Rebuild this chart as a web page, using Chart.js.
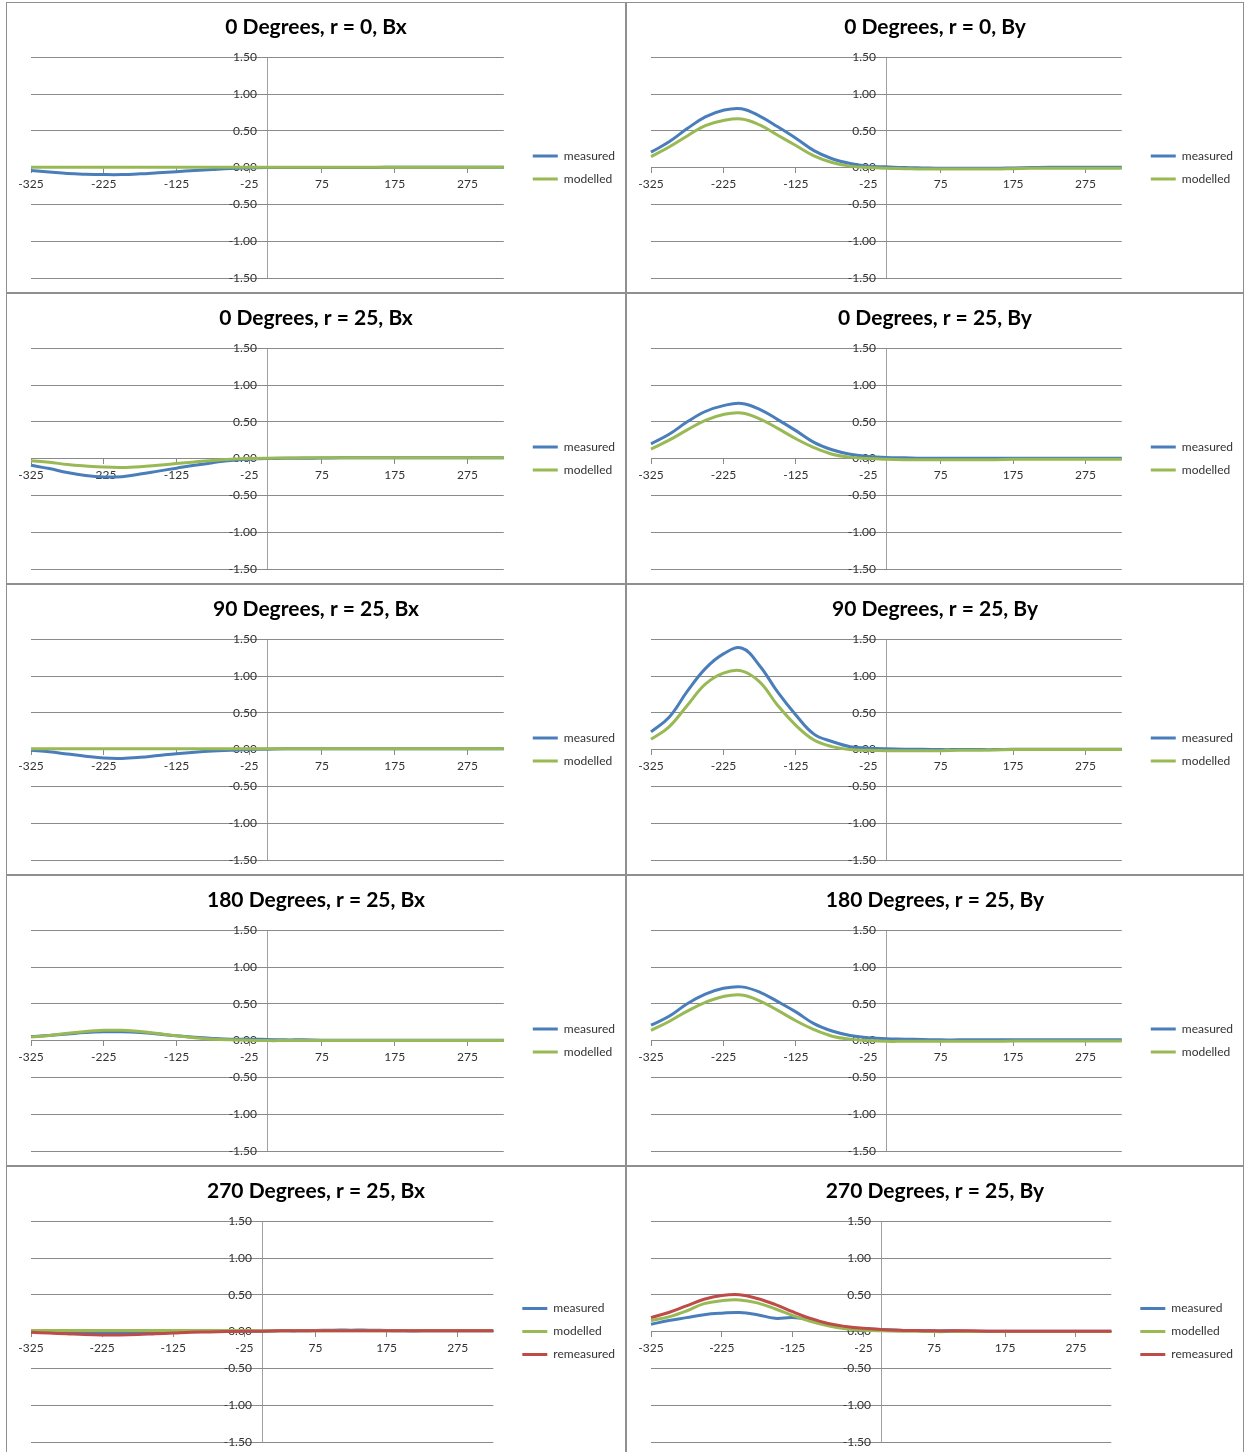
<!DOCTYPE html>
<html>
<head>
<meta charset="utf-8">
<title>Bx / By profiles</title>
<script src="https://cdn.jsdelivr.net/npm/chart.js@4/dist/chart.umd.min.js"></script>
<style>
  html, body { margin: 0; padding: 0; background: #ffffff; }
  body { width: 1244px; height: 1452px; position: relative; overflow: hidden; }
  .panel { position: absolute; box-sizing: border-box; border: 1px solid #8f8f8f; height: 291px; background: #ffffff; }
  .panel canvas { display: block; }
</style>
</head>
<body>
<script>
// Probe positions along the scan (category axis)
const POSITIONS = [-325, -300, -275, -250, -225, -200, -175, -150, -125, -100, -75, -50, -25,
                   0, 25, 50, 75, 100, 125, 150, 175, 200, 225, 250, 275, 300, 325];
const X_TICK_LABELS = [-325, -225, -125, -25, 75, 175, 275];
const Y_TICKS = [-1.5, -1.0, -0.5, 0.0, 0.5, 1.0, 1.5];

const TITLES = [
  '0 Degrees, r = 0, Bx',   '0 Degrees, r = 0, By',
  '0 Degrees, r = 25, Bx',  '0 Degrees, r = 25, By',
  '90 Degrees, r = 25, Bx', '90 Degrees, r = 25, By',
  '180 Degrees, r = 25, Bx','180 Degrees, r = 25, By',
  '270 Degrees, r = 25, Bx','270 Degrees, r = 25, By'
];

// 0 degrees, r = 0
const DEG0_R0_BX_MEASURED = [-0.04, -0.06, -0.08, -0.09, -0.095, -0.095, -0.085, -0.07, -0.055, -0.04, -0.025, -0.012, -0.005,
                             0, 0, 0, 0, 0, 0, 0.002, 0.004, 0.005, 0.005, 0.005, 0.005, 0.005, 0.005];
const DEG0_R0_BX_MODELLED = [0.004, 0.004, 0.004, 0.004, 0.004, 0.004, 0.004, 0.004, 0.004, 0.004, 0.004, 0.004, 0.004,
                             0.004, 0.004, 0.004, 0.004, 0.004, 0.004, 0.004, 0.004, 0.004, 0.004, 0.004, 0.004, 0.004, 0.004];
const DEG0_R0_BY_MEASURED = [0.21, 0.35, 0.53, 0.69, 0.78, 0.80, 0.70, 0.555, 0.40, 0.23, 0.12, 0.055, 0.02,
                             0.01, 0, -0.005, -0.01, -0.01, -0.01, -0.01, -0.005, 0, 0.005, 0.005, 0.005, 0.005, 0.005];
const DEG0_R0_BY_MODELLED = [0.15, 0.28, 0.43, 0.57, 0.64, 0.66, 0.58, 0.44, 0.30, 0.16, 0.07, 0.02, 0,
                             -0.01, -0.015, -0.02, -0.02, -0.02, -0.02, -0.02, -0.015, -0.01, -0.01, -0.01, -0.01, -0.01, -0.01];

// 0 degrees, r = 25
const DEG0_R25_BX_MEASURED = [-0.09, -0.135, -0.19, -0.23, -0.25, -0.245, -0.21, -0.17, -0.13, -0.09, -0.055, -0.027, -0.01,
                              0, 0.005, 0.005, 0.008, 0.01, 0.01, 0.01, 0.01, 0.01, 0.01, 0.01, 0.01, 0.01, 0.01];
const DEG0_R25_BX_MODELLED = [-0.03, -0.05, -0.08, -0.10, -0.115, -0.12, -0.11, -0.09, -0.068, -0.045, -0.025, -0.01, 0,
                              0.005, 0.008, 0.01, 0.01, 0.01, 0.01, 0.01, 0.01, 0.01, 0.01, 0.01, 0.01, 0.01, 0.01];
const DEG0_R25_BY_MEASURED = [0.20, 0.33, 0.50, 0.64, 0.72, 0.75, 0.67, 0.53, 0.38, 0.22, 0.12, 0.06, 0.03,
                              0.015, 0.01, 0.005, 0.005, 0.005, 0.005, 0.005, 0.005, 0.005, 0.005, 0.005, 0.005, 0.005, 0.005];
const DEG0_R25_BY_MODELLED = [0.13, 0.25, 0.39, 0.52, 0.60, 0.62, 0.54, 0.41, 0.27, 0.15, 0.06, 0.02, 0,
                              -0.01, -0.015, -0.015, -0.015, -0.015, -0.015, -0.015, -0.01, -0.01, -0.01, -0.01, -0.01, -0.01, -0.01];

// 90 degrees, r = 25
const DEG90_R25_BX_MEASURED = [-0.01, -0.03, -0.06, -0.09, -0.115, -0.12, -0.105, -0.08, -0.055, -0.035, -0.02, -0.01, 0,
                               0.005, 0.01, 0.01, 0.01, 0.01, 0.01, 0.01, 0.01, 0.01, 0.01, 0.01, 0.01, 0.01, 0.01];
const DEG90_R25_BX_MODELLED = [0.01, 0.01, 0.01, 0.01, 0.01, 0.01, 0.01, 0.01, 0.01, 0.01, 0.01, 0.01, 0.01,
                               0.01, 0.01, 0.01, 0.01, 0.01, 0.01, 0.01, 0.01, 0.01, 0.01, 0.01, 0.01, 0.01, 0.01];
const DEG90_R25_BY_MEASURED = [0.24, 0.44, 0.79, 1.10, 1.30, 1.38, 1.14, 0.78, 0.47, 0.21, 0.11, 0.04, 0.02,
                               0.01, 0.005, 0.005, 0, 0, 0, 0, 0.005, 0.005, 0.005, 0.005, 0.005, 0.005, 0.005];
const DEG90_R25_BY_MODELLED = [0.14, 0.31, 0.60, 0.89, 1.04, 1.07, 0.92, 0.60, 0.33, 0.13, 0.04, 0, -0.01,
                               -0.015, -0.015, -0.015, -0.015, -0.01, -0.01, -0.005, 0, 0, 0, 0, 0, 0, 0];

// 180 degrees, r = 25
const DEG180_R25_BX_MEASURED = [0.055, 0.07, 0.09, 0.11, 0.12, 0.12, 0.11, 0.09, 0.065, 0.045, 0.03, 0.02, 0.02,
                                0.015, 0.01, 0.01, 0.005, 0.005, 0.005, 0.005, 0.005, 0.005, 0.005, 0.005, 0.005, 0.005, 0.005];
const DEG180_R25_BX_MODELLED = [0.05, 0.07, 0.10, 0.125, 0.14, 0.14, 0.125, 0.095, 0.065, 0.04, 0.02, 0.01, 0.005,
                                0, 0, 0, 0, 0, 0, 0, 0, 0, 0, 0, 0, 0, 0];
const DEG180_R25_BY_MEASURED = [0.21, 0.33, 0.50, 0.63, 0.71, 0.73, 0.66, 0.53, 0.39, 0.23, 0.13, 0.07, 0.04,
                                0.025, 0.02, 0.015, 0.01, 0.01, 0.01, 0.01, 0.01, 0.01, 0.01, 0.01, 0.01, 0.01, 0.01];
const DEG180_R25_BY_MODELLED = [0.14, 0.26, 0.40, 0.52, 0.60, 0.62, 0.54, 0.41, 0.27, 0.15, 0.06, 0.02, 0,
                                -0.01, -0.01, -0.01, -0.01, -0.01, -0.01, -0.01, -0.005, -0.005, -0.005, -0.005, -0.005, -0.005, -0.005];

// 270 degrees, r = 25
const DEG270_R25_BX_MEASURED = [0, -0.01, -0.015, -0.02, -0.02, -0.02, -0.015, -0.01, -0.005, 0, 0, 0.005, 0.005,
                                0.005, 0.01, 0.01, 0.015, 0.02, 0.02, 0.02, 0.015, 0.01, 0.01, 0.01, 0.01, 0.01, 0.01];
const DEG270_R25_BX_MODELLED = [0.015, 0.015, 0.015, 0.015, 0.015, 0.015, 0.015, 0.015, 0.015, 0.015, 0.015, 0.015, 0.015,
                                0.01, 0.01, 0.01, 0.01, 0.01, 0.01, 0.01, 0.01, 0.01, 0.01, 0.01, 0.01, 0.01, 0.01];
const DEG270_R25_BX_REMEASURED = [-0.01, -0.02, -0.03, -0.04, -0.045, -0.045, -0.04, -0.03, -0.02, -0.01, -0.005, 0, 0.005,
                                  0.005, 0.01, 0.01, 0.01, 0.01, 0.01, 0.01, 0.01, 0.01, 0.01, 0.01, 0.01, 0.01, 0.01];
const DEG270_R25_BY_MEASURED = [0.10, 0.15, 0.19, 0.23, 0.25, 0.26, 0.23, 0.18, 0.19, 0.16, 0.09, 0.055, 0.04,
                                0.03, 0.02, 0.015, 0.01, 0.01, 0.005, 0.005, 0.005, 0.005, 0.005, 0.005, 0.005, 0.005, 0.005];
const DEG270_R25_BY_MODELLED = [0.15, 0.20, 0.28, 0.38, 0.42, 0.43, 0.39, 0.31, 0.22, 0.14, 0.08, 0.04, 0.02,
                                0.01, 0.005, 0.005, 0, 0, 0, 0, 0, 0, 0, 0, 0, 0, 0];
const DEG270_R25_BY_REMEASURED = [0.19, 0.26, 0.35, 0.44, 0.49, 0.50, 0.45, 0.37, 0.27, 0.18, 0.11, 0.07, 0.045,
                                  0.03, 0.02, 0.015, 0.01, 0.01, 0.01, 0.005, 0.005, 0.005, 0.005, 0.005, 0.005, 0.005, 0.005];

const SERIES_COLORS = { measured: '#4a7ebb', modelled: '#98b954', remeasured: '#be4b48' };

const PANELS = [
  [['measured', DEG0_R0_BX_MEASURED], ['modelled', DEG0_R0_BX_MODELLED]],
  [['measured', DEG0_R0_BY_MEASURED], ['modelled', DEG0_R0_BY_MODELLED]],
  [['measured', DEG0_R25_BX_MEASURED], ['modelled', DEG0_R25_BX_MODELLED]],
  [['measured', DEG0_R25_BY_MEASURED], ['modelled', DEG0_R25_BY_MODELLED]],
  [['measured', DEG90_R25_BX_MEASURED], ['modelled', DEG90_R25_BX_MODELLED]],
  [['measured', DEG90_R25_BY_MEASURED], ['modelled', DEG90_R25_BY_MODELLED]],
  [['measured', DEG180_R25_BX_MEASURED], ['modelled', DEG180_R25_BX_MODELLED]],
  [['measured', DEG180_R25_BY_MEASURED], ['modelled', DEG180_R25_BY_MODELLED]],
  [['measured', DEG270_R25_BX_MEASURED], ['modelled', DEG270_R25_BX_MODELLED], ['remeasured', DEG270_R25_BX_REMEASURED]],
  [['measured', DEG270_R25_BY_MEASURED], ['modelled', DEG270_R25_BY_MODELLED], ['remeasured', DEG270_R25_BY_REMEASURED]]
];

// Layout constants
const GRID_GRAY = '#8a8a8a';
const AXIS_GRAY = '#a0a0a0';
const CLEAR = 'rgba(0,0,0,0)';
const TEXT_COLOR = '#333333';
const LEFT_GUTTER = 24;   // room left of the plot area
const LEGEND_GAP = 18;    // space between plot area and legend
const ORIGIN_INDEX = POSITIONS.indexOf(0);
const LABEL_SHIFT = 0.58; // y tick labels sit a little left of the vertical axis (in categories)

Chart.defaults.font.family = "Lato, 'Noto Sans', sans-serif";
Chart.defaults.color = TEXT_COLOR;

// Invisible layout box used as a fixed-size gutter
function gutter(position, size, weight) {
  return {
    position, weight, fullSize: false, options: { display: false },
    left: 0, top: 0, right: 0, bottom: 0, width: 0, height: 0,
    isHorizontal() { return false; },
    update(maxWidth, maxHeight) { this.width = size; this.height = maxHeight; },
    draw() {}
  };
}
const gutterPlugin = {
  id: 'gutters',
  beforeInit(chart) {
    Chart.layouts.addBox(chart, gutter('left', LEFT_GUTTER, 0));
    Chart.layouts.addBox(chart, gutter('right', LEGEND_GAP, 500));
  }
};

const isLabelled = (index) => X_TICK_LABELS.includes(POSITIONS[index]);

function makeChart(canvas, title, series) {
  const datasets = series.map(([name, values], k) => ({
    label: name,
    data: values,
    borderColor: SERIES_COLORS[name],
    backgroundColor: SERIES_COLORS[name],
    borderWidth: 3,
    pointRadius: 0,
    pointHoverRadius: 0,
    pointStyle: 'line',
    tension: 0.4,
    fill: false,
    order: series.length - k
  }));

  return new Chart(canvas, {
    type: 'line',
    data: { labels: POSITIONS.map(String), datasets },
    plugins: [gutterPlugin],
    options: {
      responsive: false,
      animation: false,
      devicePixelRatio: 1,
      layout: { padding: { left: 0, right: 0, top: 0, bottom: 14 } },
      plugins: {
        title: {
          display: true, text: title, color: '#000000',
          font: { size: 21, weight: 'bold' },
          padding: { top: 12, bottom: 17 }
        },
        legend: {
          position: 'right',
          fullSize: false,
          labels: {
            usePointStyle: true, pointStyle: 'line', pointStyleWidth: 25,
            padding: 11, color: TEXT_COLOR, font: { size: 12 },
            sort: (a, b) => a.datasetIndex - b.datasetIndex
          }
        },
        tooltip: { enabled: false }
      },
      scales: {
        x: {
          type: 'category',
          position: { y: 0 },
          offset: false,
          grid: {
            drawOnChartArea: true, drawTicks: true, tickLength: 5,
            // the only vertical line in the plot is the value axis at position 0
            color: (ctx) => ctx.index === ORIGIN_INDEX ? AXIS_GRAY : CLEAR,
            tickColor: (ctx) => isLabelled(ctx.index) ? GRID_GRAY : CLEAR
          },
          border: { display: true, color: GRID_GRAY },
          ticks: {
            autoSkip: false, maxRotation: 0, minRotation: 0, padding: 4,
            color: TEXT_COLOR, font: { size: 12 },
            callback: (value, index) => isLabelled(index) ? String(POSITIONS[index]) : ''
          }
        },
        y: {
          type: 'linear',
          min: Y_TICKS[0], max: Y_TICKS[Y_TICKS.length - 1],
          position: { x: ORIGIN_INDEX - LABEL_SHIFT },
          grid: { color: GRID_GRAY, drawTicks: false },
          border: { display: false },
          ticks: {
            stepSize: Y_TICKS[1] - Y_TICKS[0], padding: 0,
            color: TEXT_COLOR, font: { size: 12 },
            callback: (v) => Number(v).toFixed(2)
          }
        }
      }
    }
  });
}

function build() {
  PANELS.forEach((series, i) => {
    const row = Math.floor(i / 2), col = i % 2;
    const panel = document.createElement('div');
    panel.className = 'panel';
    const left = col ? 626 : 6;
    const width = col ? 618 : 620;
    panel.style.left = left + 'px';
    panel.style.top = (2 + row * 291) + 'px';
    panel.style.width = width + 'px';
    const canvas = document.createElement('canvas');
    canvas.width = width - 2;
    canvas.height = 289;
    canvas.style.width = (width - 2) + 'px';
    canvas.style.height = '289px';
    panel.appendChild(canvas);
    document.body.appendChild(panel);
    makeChart(canvas, TITLES[i], series);
  });
}

const fontLoads = document.fonts ? Promise.all([
  document.fonts.load('12px Lato'), document.fonts.load('bold 21px Lato')
]).catch(() => null) : Promise.resolve();
fontLoads.then(build);
</script>
</body>
</html>
